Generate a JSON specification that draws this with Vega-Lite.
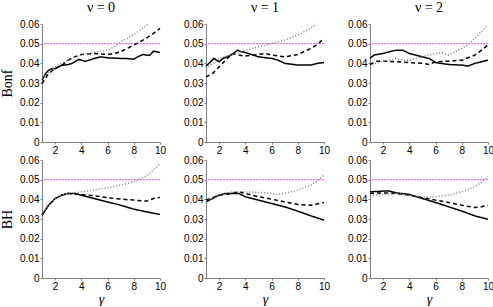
{
  "$schema": "https://vega.github.io/schema/vega-lite/v6.json",
  "padding": {"left": 0, "top": 1, "right": 5, "bottom": 0},
  "spacing": 0,
  "datasets": {
    "d": [
      {"p":"B0","s":"a","x":1,"y":0.0314},{"p":"B0","s":"a","x":1.3,"y":0.035},{"p":"B0","s":"a","x":1.5,"y":0.0365},{"p":"B0","s":"a","x":1.8,"y":0.0374},{"p":"B0","s":"a","x":2,"y":0.0372},{"p":"B0","s":"a","x":2.2,"y":0.038},{"p":"B0","s":"a","x":2.5,"y":0.039},{"p":"B0","s":"a","x":2.8,"y":0.0392},{"p":"B0","s":"a","x":3,"y":0.0394},{"p":"B0","s":"a","x":3.3,"y":0.04},{"p":"B0","s":"a","x":3.5,"y":0.0408},{"p":"B0","s":"a","x":3.8,"y":0.042},{"p":"B0","s":"a","x":4,"y":0.0416},{"p":"B0","s":"a","x":4.3,"y":0.041},{"p":"B0","s":"a","x":5,"y":0.0425},{"p":"B0","s":"a","x":5.5,"y":0.0433},{"p":"B0","s":"a","x":6,"y":0.0428},{"p":"B0","s":"a","x":7,"y":0.0425},{"p":"B0","s":"a","x":7.5,"y":0.0424},{"p":"B0","s":"a","x":8,"y":0.0421},{"p":"B0","s":"a","x":8.3,"y":0.0433},{"p":"B0","s":"a","x":8.7,"y":0.0445},{"p":"B0","s":"a","x":9.2,"y":0.044},{"p":"B0","s":"a","x":9.5,"y":0.0462},{"p":"B0","s":"a","x":10,"y":0.0455},
      {"p":"B0","s":"b","x":1,"y":0.0297},{"p":"B0","s":"b","x":1.5,"y":0.0348},{"p":"B0","s":"b","x":2,"y":0.0374},{"p":"B0","s":"b","x":2.5,"y":0.039},{"p":"B0","s":"b","x":3,"y":0.0416},{"p":"B0","s":"b","x":3.5,"y":0.0433},{"p":"B0","s":"b","x":4,"y":0.0445},{"p":"B0","s":"b","x":5,"y":0.045},{"p":"B0","s":"b","x":6,"y":0.0445},{"p":"B0","s":"b","x":6.5,"y":0.045},{"p":"B0","s":"b","x":7,"y":0.0459},{"p":"B0","s":"b","x":7.5,"y":0.0476},{"p":"B0","s":"b","x":8,"y":0.0493},{"p":"B0","s":"b","x":8.5,"y":0.051},{"p":"B0","s":"b","x":9,"y":0.053},{"p":"B0","s":"b","x":9.5,"y":0.0552},{"p":"B0","s":"b","x":10,"y":0.0578},
      {"p":"B0","s":"c","x":1,"y":0.032},{"p":"B0","s":"c","x":1.5,"y":0.0355},{"p":"B0","s":"c","x":2,"y":0.0382},{"p":"B0","s":"c","x":2.5,"y":0.04},{"p":"B0","s":"c","x":3,"y":0.0416},{"p":"B0","s":"c","x":3.5,"y":0.043},{"p":"B0","s":"c","x":4,"y":0.0442},{"p":"B0","s":"c","x":5,"y":0.0456},{"p":"B0","s":"c","x":6,"y":0.0467},{"p":"B0","s":"c","x":6.5,"y":0.0484},{"p":"B0","s":"c","x":7,"y":0.051},{"p":"B0","s":"c","x":7.5,"y":0.0527},{"p":"B0","s":"c","x":8,"y":0.0547},{"p":"B0","s":"c","x":8.5,"y":0.057},{"p":"B0","s":"c","x":9.1,"y":0.06},

      {"p":"B1","s":"a","x":1,"y":0.0386},{"p":"B1","s":"a","x":1.3,"y":0.0404},{"p":"B1","s":"a","x":1.6,"y":0.0425},{"p":"B1","s":"a","x":2,"y":0.0408},{"p":"B1","s":"a","x":2.3,"y":0.0425},{"p":"B1","s":"a","x":2.6,"y":0.0433},{"p":"B1","s":"a","x":3,"y":0.0445},{"p":"B1","s":"a","x":3.4,"y":0.0467},{"p":"B1","s":"a","x":3.7,"y":0.0459},{"p":"B1","s":"a","x":4,"y":0.0455},{"p":"B1","s":"a","x":5,"y":0.0433},{"p":"B1","s":"a","x":6,"y":0.0425},{"p":"B1","s":"a","x":6.5,"y":0.0416},{"p":"B1","s":"a","x":7,"y":0.04},{"p":"B1","s":"a","x":8,"y":0.0391},{"p":"B1","s":"a","x":9,"y":0.0391},{"p":"B1","s":"a","x":9.5,"y":0.04},{"p":"B1","s":"a","x":10,"y":0.0404},
      {"p":"B1","s":"b","x":1,"y":0.0331},{"p":"B1","s":"b","x":1.5,"y":0.0348},{"p":"B1","s":"b","x":2,"y":0.0382},{"p":"B1","s":"b","x":2.5,"y":0.0416},{"p":"B1","s":"b","x":3,"y":0.045},{"p":"B1","s":"b","x":3.5,"y":0.0442},{"p":"B1","s":"b","x":4,"y":0.0437},{"p":"B1","s":"b","x":5,"y":0.0445},{"p":"B1","s":"b","x":5.5,"y":0.045},{"p":"B1","s":"b","x":6,"y":0.0442},{"p":"B1","s":"b","x":7,"y":0.0433},{"p":"B1","s":"b","x":8,"y":0.0445},{"p":"B1","s":"b","x":9,"y":0.0476},{"p":"B1","s":"b","x":9.5,"y":0.0496},{"p":"B1","s":"b","x":10,"y":0.0527},
      {"p":"B1","s":"c","x":1,"y":0.0374},{"p":"B1","s":"c","x":2,"y":0.0425},{"p":"B1","s":"c","x":3,"y":0.0445},{"p":"B1","s":"c","x":4,"y":0.0467},{"p":"B1","s":"c","x":5,"y":0.0484},{"p":"B1","s":"c","x":6,"y":0.0501},{"p":"B1","s":"c","x":7,"y":0.0518},{"p":"B1","s":"c","x":8,"y":0.0544},{"p":"B1","s":"c","x":9,"y":0.0578},{"p":"B1","s":"c","x":9.4,"y":0.06},

      {"p":"B2","s":"a","x":1,"y":0.0425},{"p":"B2","s":"a","x":1.3,"y":0.0442},{"p":"B2","s":"a","x":2,"y":0.045},{"p":"B2","s":"a","x":2.5,"y":0.0459},{"p":"B2","s":"a","x":3,"y":0.0467},{"p":"B2","s":"a","x":3.5,"y":0.0467},{"p":"B2","s":"a","x":4,"y":0.045},{"p":"B2","s":"a","x":5,"y":0.0433},{"p":"B2","s":"a","x":5.5,"y":0.0425},{"p":"B2","s":"a","x":6,"y":0.0404},{"p":"B2","s":"a","x":7,"y":0.0394},{"p":"B2","s":"a","x":8,"y":0.0391},{"p":"B2","s":"a","x":8.5,"y":0.0386},{"p":"B2","s":"a","x":9,"y":0.04},{"p":"B2","s":"a","x":10,"y":0.0416},
      {"p":"B2","s":"b","x":1,"y":0.0394},{"p":"B2","s":"b","x":1.5,"y":0.0411},{"p":"B2","s":"b","x":2,"y":0.0411},{"p":"B2","s":"b","x":3,"y":0.0408},{"p":"B2","s":"b","x":4,"y":0.0404},{"p":"B2","s":"b","x":5,"y":0.04},{"p":"B2","s":"b","x":5.5,"y":0.0394},{"p":"B2","s":"b","x":6,"y":0.0408},{"p":"B2","s":"b","x":7,"y":0.0411},{"p":"B2","s":"b","x":8,"y":0.0416},{"p":"B2","s":"b","x":9,"y":0.0442},{"p":"B2","s":"b","x":9.5,"y":0.0467},{"p":"B2","s":"b","x":10,"y":0.0493},
      {"p":"B2","s":"c","x":1,"y":0.0382},{"p":"B2","s":"c","x":1.5,"y":0.0404},{"p":"B2","s":"c","x":2,"y":0.0408},{"p":"B2","s":"c","x":2.5,"y":0.0416},{"p":"B2","s":"c","x":3,"y":0.0425},{"p":"B2","s":"c","x":3.5,"y":0.0416},{"p":"B2","s":"c","x":4,"y":0.0416},{"p":"B2","s":"c","x":4.5,"y":0.0425},{"p":"B2","s":"c","x":5,"y":0.0433},{"p":"B2","s":"c","x":5.5,"y":0.0442},{"p":"B2","s":"c","x":6,"y":0.045},{"p":"B2","s":"c","x":6.5,"y":0.0454},{"p":"B2","s":"c","x":7,"y":0.0442},{"p":"B2","s":"c","x":7.5,"y":0.0459},{"p":"B2","s":"c","x":8,"y":0.0476},{"p":"B2","s":"c","x":8.5,"y":0.0496},{"p":"B2","s":"c","x":9,"y":0.0527},{"p":"B2","s":"c","x":9.5,"y":0.0561},{"p":"B2","s":"c","x":10,"y":0.0595},

      {"p":"H0","s":"a","x":1,"y":0.0319},{"p":"H0","s":"a","x":1.5,"y":0.037},{"p":"H0","s":"a","x":2,"y":0.0404},{"p":"H0","s":"a","x":2.5,"y":0.0421},{"p":"H0","s":"a","x":3,"y":0.043},{"p":"H0","s":"a","x":3.5,"y":0.043},{"p":"H0","s":"a","x":4,"y":0.0421},{"p":"H0","s":"a","x":5,"y":0.0404},{"p":"H0","s":"a","x":6,"y":0.0387},{"p":"H0","s":"a","x":7,"y":0.037},{"p":"H0","s":"a","x":8,"y":0.035},{"p":"H0","s":"a","x":9,"y":0.0336},{"p":"H0","s":"a","x":10,"y":0.0323},
      {"p":"H0","s":"b","x":1,"y":0.0319},{"p":"H0","s":"b","x":1.5,"y":0.037},{"p":"H0","s":"b","x":2,"y":0.0404},{"p":"H0","s":"b","x":2.5,"y":0.0421},{"p":"H0","s":"b","x":3,"y":0.043},{"p":"H0","s":"b","x":4,"y":0.0425},{"p":"H0","s":"b","x":5,"y":0.0418},{"p":"H0","s":"b","x":6,"y":0.0408},{"p":"H0","s":"b","x":7,"y":0.0401},{"p":"H0","s":"b","x":8,"y":0.0396},{"p":"H0","s":"b","x":9,"y":0.0391},{"p":"H0","s":"b","x":9.5,"y":0.0404},{"p":"H0","s":"b","x":10,"y":0.041},
      {"p":"H0","s":"c","x":1,"y":0.032},{"p":"H0","s":"c","x":1.5,"y":0.037},{"p":"H0","s":"c","x":2,"y":0.0404},{"p":"H0","s":"c","x":2.5,"y":0.0421},{"p":"H0","s":"c","x":3,"y":0.043},{"p":"H0","s":"c","x":4,"y":0.0438},{"p":"H0","s":"c","x":5,"y":0.0447},{"p":"H0","s":"c","x":6,"y":0.0459},{"p":"H0","s":"c","x":7,"y":0.0472},{"p":"H0","s":"c","x":8,"y":0.0489},{"p":"H0","s":"c","x":9,"y":0.052},{"p":"H0","s":"c","x":9.5,"y":0.0549},{"p":"H0","s":"c","x":10,"y":0.058},

      {"p":"H1","s":"a","x":1,"y":0.0387},{"p":"H1","s":"a","x":1.5,"y":0.0404},{"p":"H1","s":"a","x":2,"y":0.0421},{"p":"H1","s":"a","x":2.5,"y":0.043},{"p":"H1","s":"a","x":3,"y":0.043},{"p":"H1","s":"a","x":3.5,"y":0.043},{"p":"H1","s":"a","x":4,"y":0.0413},{"p":"H1","s":"a","x":5,"y":0.0396},{"p":"H1","s":"a","x":6,"y":0.0379},{"p":"H1","s":"a","x":7,"y":0.0362},{"p":"H1","s":"a","x":8,"y":0.034},{"p":"H1","s":"a","x":9,"y":0.0316},{"p":"H1","s":"a","x":10,"y":0.0294},
      {"p":"H1","s":"b","x":1,"y":0.0396},{"p":"H1","s":"b","x":2,"y":0.0421},{"p":"H1","s":"b","x":3,"y":0.043},{"p":"H1","s":"b","x":3.5,"y":0.0438},{"p":"H1","s":"b","x":4,"y":0.043},{"p":"H1","s":"b","x":5,"y":0.0413},{"p":"H1","s":"b","x":6,"y":0.0401},{"p":"H1","s":"b","x":7,"y":0.0387},{"p":"H1","s":"b","x":8,"y":0.0374},{"p":"H1","s":"b","x":9,"y":0.037},{"p":"H1","s":"b","x":10,"y":0.0384},
      {"p":"H1","s":"c","x":1,"y":0.039},{"p":"H1","s":"c","x":2,"y":0.0421},{"p":"H1","s":"c","x":3,"y":0.0438},{"p":"H1","s":"c","x":4,"y":0.0438},{"p":"H1","s":"c","x":5,"y":0.0435},{"p":"H1","s":"c","x":6,"y":0.043},{"p":"H1","s":"c","x":6.5,"y":0.0425},{"p":"H1","s":"c","x":7,"y":0.043},{"p":"H1","s":"c","x":8,"y":0.0447},{"p":"H1","s":"c","x":9,"y":0.0472},{"p":"H1","s":"c","x":9.5,"y":0.0493},{"p":"H1","s":"c","x":10,"y":0.0524},

      {"p":"H2","s":"a","x":1,"y":0.0438},{"p":"H2","s":"a","x":2,"y":0.0442},{"p":"H2","s":"a","x":2.5,"y":0.0442},{"p":"H2","s":"a","x":3,"y":0.0433},{"p":"H2","s":"a","x":4,"y":0.0425},{"p":"H2","s":"a","x":5,"y":0.0404},{"p":"H2","s":"a","x":6,"y":0.0384},{"p":"H2","s":"a","x":7,"y":0.0362},{"p":"H2","s":"a","x":8,"y":0.034},{"p":"H2","s":"a","x":9,"y":0.0316},{"p":"H2","s":"a","x":10,"y":0.0299},
      {"p":"H2","s":"b","x":1,"y":0.043},{"p":"H2","s":"b","x":2,"y":0.0433},{"p":"H2","s":"b","x":3,"y":0.043},{"p":"H2","s":"b","x":4,"y":0.0421},{"p":"H2","s":"b","x":5,"y":0.0408},{"p":"H2","s":"b","x":6,"y":0.0396},{"p":"H2","s":"b","x":7,"y":0.0384},{"p":"H2","s":"b","x":8,"y":0.037},{"p":"H2","s":"b","x":9,"y":0.0358},{"p":"H2","s":"b","x":9.5,"y":0.0362},{"p":"H2","s":"b","x":10,"y":0.037},
      {"p":"H2","s":"c","x":1,"y":0.0418},{"p":"H2","s":"c","x":2,"y":0.0425},{"p":"H2","s":"c","x":3,"y":0.043},{"p":"H2","s":"c","x":4,"y":0.0421},{"p":"H2","s":"c","x":5,"y":0.0413},{"p":"H2","s":"c","x":6,"y":0.0413},{"p":"H2","s":"c","x":7,"y":0.0421},{"p":"H2","s":"c","x":8,"y":0.0438},{"p":"H2","s":"c","x":9,"y":0.0464},{"p":"H2","s":"c","x":9.5,"y":0.0487},{"p":"H2","s":"c","x":10,"y":0.0516}
    ]
  },
  "config": {
    "view": {"stroke": null},
    "axis": {"grid": false, "domainColor": "#808080", "tickColor": "#808080", "labelFont": "Liberation Sans", "labelFontSize": 10, "labelColor": "#000", "tickSize": 2, "labelPadding": 1, "labelOverlap": false, "labelFlush": false, "titleFont": "Liberation Serif", "titleFontSize": 14, "titleFontWeight": "normal", "titleColor": "#000"},
    "axisX": {"titleFontStyle": "italic", "titlePadding": 1, "tickCount": 5},
    "axisY": {"titlePadding": 5, "tickCount": 7},
    "title": {"font": "Liberation Serif", "fontSize": 14, "fontWeight": "normal", "offset": 0, "color": "#000"},
    "line": {"clip": true}
  },
  "vconcat": [
    {"spacing": 17, "hconcat": [
      {"width": 118, "height": 118, "title": "ν = 0", "layer": [
        {"data": {"values": [{"t": 0.05}]}, "mark": {"type": "rule", "color": "#ee55ee", "strokeDash": [2, 1], "strokeWidth": 1}, "encoding": {"y": {"field": "t", "type": "quantitative"}}},
        {"data": {"name": "d"}, "transform": [{"filter": "datum.p == 'B0'"}], "mark": "line", "encoding": {
          "x": {"field": "x", "type": "quantitative", "scale": {"domain": [1, 10], "nice": false, "zero": false}, "axis": {"values": [2, 4, 6, 8, 10], "title": null}},
          "y": {"field": "y", "type": "quantitative", "scale": {"domain": [0, 0.06], "nice": false}, "axis": {"values": [0, 0.01, 0.02, 0.03, 0.04, 0.05, 0.06], "format": "~g", "title": "Bonf"}},
          "color": {"field": "s", "type": "nominal", "scale": {"domain": ["a", "b", "c"], "range": ["#000000", "#000000", "#808080"]}, "legend": null},
          "strokeDash": {"field": "s", "type": "nominal", "scale": {"domain": ["a", "b", "c"], "range": [[1, 0], [4, 3], [1, 2]]}, "legend": null},
          "strokeWidth": {"field": "s", "type": "nominal", "scale": {"domain": ["a", "b", "c"], "range": [1.5, 1.5, 1]}, "legend": null}}}
      ]},
      {"width": 118, "height": 118, "title": "ν = 1", "layer": [
        {"data": {"values": [{"t": 0.05}]}, "mark": {"type": "rule", "color": "#ee55ee", "strokeDash": [2, 1], "strokeWidth": 1}, "encoding": {"y": {"field": "t", "type": "quantitative"}}},
        {"data": {"name": "d"}, "transform": [{"filter": "datum.p == 'B1'"}], "mark": "line", "encoding": {
          "x": {"field": "x", "type": "quantitative", "scale": {"domain": [1, 10], "nice": false, "zero": false}, "axis": {"values": [2, 4, 6, 8, 10], "title": null}},
          "y": {"field": "y", "type": "quantitative", "scale": {"domain": [0, 0.06], "nice": false}, "axis": {"values": [0, 0.01, 0.02, 0.03, 0.04, 0.05, 0.06], "format": "~g", "title": null}},
          "color": {"field": "s", "type": "nominal", "scale": {"domain": ["a", "b", "c"], "range": ["#000000", "#000000", "#808080"]}, "legend": null},
          "strokeDash": {"field": "s", "type": "nominal", "scale": {"domain": ["a", "b", "c"], "range": [[1, 0], [4, 3], [1, 2]]}, "legend": null},
          "strokeWidth": {"field": "s", "type": "nominal", "scale": {"domain": ["a", "b", "c"], "range": [1.5, 1.5, 1]}, "legend": null}}}
      ]},
      {"width": 118, "height": 118, "title": "ν = 2", "layer": [
        {"data": {"values": [{"t": 0.05}]}, "mark": {"type": "rule", "color": "#ee55ee", "strokeDash": [2, 1], "strokeWidth": 1}, "encoding": {"y": {"field": "t", "type": "quantitative"}}},
        {"data": {"name": "d"}, "transform": [{"filter": "datum.p == 'B2'"}], "mark": "line", "encoding": {
          "x": {"field": "x", "type": "quantitative", "scale": {"domain": [1, 10], "nice": false, "zero": false}, "axis": {"values": [2, 4, 6, 8, 10], "title": null}},
          "y": {"field": "y", "type": "quantitative", "scale": {"domain": [0, 0.06], "nice": false}, "axis": {"values": [0, 0.01, 0.02, 0.03, 0.04, 0.05, 0.06], "format": "~g", "title": null}},
          "color": {"field": "s", "type": "nominal", "scale": {"domain": ["a", "b", "c"], "range": ["#000000", "#000000", "#808080"]}, "legend": null},
          "strokeDash": {"field": "s", "type": "nominal", "scale": {"domain": ["a", "b", "c"], "range": [[1, 0], [4, 3], [1, 2]]}, "legend": null},
          "strokeWidth": {"field": "s", "type": "nominal", "scale": {"domain": ["a", "b", "c"], "range": [1.5, 1.5, 1]}, "legend": null}}}
      ]}
    ]},
    {"spacing": 17, "hconcat": [
      {"width": 118, "height": 118, "layer": [
        {"data": {"values": [{"t": 0.05}]}, "mark": {"type": "rule", "color": "#ee55ee", "strokeDash": [2, 1], "strokeWidth": 1}, "encoding": {"y": {"field": "t", "type": "quantitative"}}},
        {"data": {"name": "d"}, "transform": [{"filter": "datum.p == 'H0'"}], "mark": "line", "encoding": {
          "x": {"field": "x", "type": "quantitative", "scale": {"domain": [1, 10], "nice": false, "zero": false}, "axis": {"values": [2, 4, 6, 8, 10], "title": "γ"}},
          "y": {"field": "y", "type": "quantitative", "scale": {"domain": [0, 0.06], "nice": false}, "axis": {"values": [0, 0.01, 0.02, 0.03, 0.04, 0.05, 0.06], "format": "~g", "title": "BH"}},
          "color": {"field": "s", "type": "nominal", "scale": {"domain": ["a", "b", "c"], "range": ["#000000", "#000000", "#808080"]}, "legend": null},
          "strokeDash": {"field": "s", "type": "nominal", "scale": {"domain": ["a", "b", "c"], "range": [[1, 0], [4, 3], [1, 2]]}, "legend": null},
          "strokeWidth": {"field": "s", "type": "nominal", "scale": {"domain": ["a", "b", "c"], "range": [1.5, 1.5, 1]}, "legend": null}}}
      ]},
      {"width": 118, "height": 118, "layer": [
        {"data": {"values": [{"t": 0.05}]}, "mark": {"type": "rule", "color": "#ee55ee", "strokeDash": [2, 1], "strokeWidth": 1}, "encoding": {"y": {"field": "t", "type": "quantitative"}}},
        {"data": {"name": "d"}, "transform": [{"filter": "datum.p == 'H1'"}], "mark": "line", "encoding": {
          "x": {"field": "x", "type": "quantitative", "scale": {"domain": [1, 10], "nice": false, "zero": false}, "axis": {"values": [2, 4, 6, 8, 10], "title": "γ"}},
          "y": {"field": "y", "type": "quantitative", "scale": {"domain": [0, 0.06], "nice": false}, "axis": {"values": [0, 0.01, 0.02, 0.03, 0.04, 0.05, 0.06], "format": "~g", "title": null}},
          "color": {"field": "s", "type": "nominal", "scale": {"domain": ["a", "b", "c"], "range": ["#000000", "#000000", "#808080"]}, "legend": null},
          "strokeDash": {"field": "s", "type": "nominal", "scale": {"domain": ["a", "b", "c"], "range": [[1, 0], [4, 3], [1, 2]]}, "legend": null},
          "strokeWidth": {"field": "s", "type": "nominal", "scale": {"domain": ["a", "b", "c"], "range": [1.5, 1.5, 1]}, "legend": null}}}
      ]},
      {"width": 118, "height": 118, "layer": [
        {"data": {"values": [{"t": 0.05}]}, "mark": {"type": "rule", "color": "#ee55ee", "strokeDash": [2, 1], "strokeWidth": 1}, "encoding": {"y": {"field": "t", "type": "quantitative"}}},
        {"data": {"name": "d"}, "transform": [{"filter": "datum.p == 'H2'"}], "mark": "line", "encoding": {
          "x": {"field": "x", "type": "quantitative", "scale": {"domain": [1, 10], "nice": false, "zero": false}, "axis": {"values": [2, 4, 6, 8, 10], "title": "γ"}},
          "y": {"field": "y", "type": "quantitative", "scale": {"domain": [0, 0.06], "nice": false}, "axis": {"values": [0, 0.01, 0.02, 0.03, 0.04, 0.05, 0.06], "format": "~g", "title": null}},
          "color": {"field": "s", "type": "nominal", "scale": {"domain": ["a", "b", "c"], "range": ["#000000", "#000000", "#808080"]}, "legend": null},
          "strokeDash": {"field": "s", "type": "nominal", "scale": {"domain": ["a", "b", "c"], "range": [[1, 0], [4, 3], [1, 2]]}, "legend": null},
          "strokeWidth": {"field": "s", "type": "nominal", "scale": {"domain": ["a", "b", "c"], "range": [1.5, 1.5, 1]}, "legend": null}}}
      ]}
    ]}
  ]
}
